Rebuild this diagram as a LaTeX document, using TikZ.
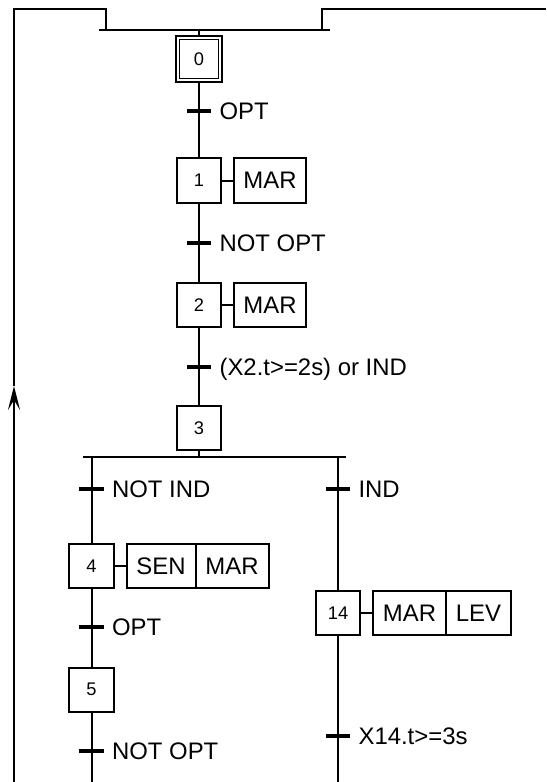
\documentclass[tikz,border=0pt]{standalone}
\usepackage{fontspec}
\setmainfont{Liberation Sans}
\usetikzlibrary{arrows.meta, positioning}

\begin{document}
\begin{tikzpicture}[x=0.025cm, y=-0.025cm, line join=miter,
    wire/.style={line width=0.05cm},
    stepbox/.style={draw, line width=0.05cm, minimum width=1.1cm, minimum height=1.1cm,
      inner sep=0pt, font=\fontsize{13}{15}\selectfont},
    initstep/.style={stepbox, double, line width=0.035cm, double distance=0.05cm,
      minimum width=1.06cm, minimum height=1.06cm, outer sep=0.0425cm},
    act/.style={draw, line width=0.05cm, minimum height=1.1cm, inner sep=0pt, outer sep=0pt,
      font=\fontsize{17}{20}\selectfont},
    bar/.style={fill, minimum width=0.6cm, minimum height=0.09cm, inner sep=0pt},
    cond/.style={font=\fontsize{17}{20}\selectfont, inner sep=0pt,
      text height=12.2pt, text depth=0pt},
    >={Stealth[length=0.6cm, width=0.3cm, inset=0.25cm]}]
  \useasboundingbox (0,0) rectangle (546,782);
  % ================= loop back and OR convergence =================
  \coordinate (loopB) at (14,782);
  \coordinate (loopT) at (14,9);
  \coordinate (arrTip) at (14,386);
  \coordinate (syncIn) at (106,30);
  \coordinate (syncL) at (99,30);
  \coordinate (syncR) at (330,30);
  \coordinate (retR) at (322,30);
  \coordinate (exitR) at (546,9);
  \draw[wire] (syncL) -- (syncR);
  \draw[wire, ->] (loopB) -- (arrTip);
  \draw[wire] (arrTip) -- (loopT) -| (syncIn);
  \draw[wire] (retR) |- (exitR);
  % ================= main column =================
  \node[initstep] (s0) at (199,59) {0};
  \node[stepbox] (s1) at (199,180.5) {1};
  \node[act, minimum width=1.8cm, right=0.3cm of s1] (a1) {MAR};
  \node[stepbox] (s2) at (199,305) {2};
  \node[act, minimum width=1.8cm, right=0.3cm of s2] (a2) {MAR};
  \node[stepbox] (s3) at (199,428) {3};
  \draw[wire] (s0.north) -- (s0.north |- syncL);
  \draw[wire] (s0) -- (s1);
  \draw[wire] (s1) -- (s2);
  \draw[wire] (s2) -- (s3);
  \draw[wire] (s1.east) -- (a1.west);
  \draw[wire] (s2.east) -- (a2.west);
  % transitions
  \node[bar] (t1) at (199,111) {};
  \node[cond, right=0.2cm of t1] (c1) {OPT};
  \node[bar] (t2) at (199,243) {};
  \node[cond, right=0.2cm of t2] (c2) {NOT OPT};
  \node[bar] (t3) at (199,367) {};
  \node[cond, right=0.2cm of t3] (c3) {(X2.t>=2s) or IND};
  % ================= OR divergence =================
  \coordinate (divL) at (83,457);
  \coordinate (divR) at (346,457);
  \draw[wire] (divL) -- (divR);
  \draw[wire] (s3) -- (s3 |- divL);
  % left branch
  \node[stepbox] (s4) at (91.5,566) {4};
  \node[act, minimum width=1.725cm, right=0.3cm of s4] (a4sen) {SEN};
  \node[act, minimum width=1.825cm, right=0pt of a4sen] (a4mar) {MAR};
  \node[stepbox] (s5) at (91.5,689.5) {5};
  \draw[wire] (s4.north |- divL) -- (s4.north);
  \draw[wire] (s4) -- (s5);
  \draw[wire] (s5.south) -- (s5.south |- loopB);
  \draw[wire] (s4.east) -- (a4sen.west);
  \node[bar] (t4) at (91.5,489) {};
  \node[cond, right=0.2cm of t4] (c4) {NOT IND};
  \node[bar] (t5) at (91.5,627) {};
  \node[cond, right=0.2cm of t5] (c5) {OPT};
  \node[bar] (t6) at (91.5,751) {};
  \node[cond, right=0.2cm of t6] (c6) {NOT OPT};
  % right branch
  \node[stepbox] (s14) at (338,613) {14};
  \node[act, minimum width=1.825cm, right=0.3cm of s14] (a14mar) {MAR};
  \node[act, minimum width=1.625cm, right=0pt of a14mar] (a14lev) {LEV};
  \draw[wire] (s14.north |- divR) -- (s14.north);
  \draw[wire] (s14.south) -- (s14.south |- loopB);
  \draw[wire] (s14.east) -- (a14mar.west);
  \node[bar] (t7) at (338,489) {};
  \node[cond, right=0.2cm of t7] (c7) {IND};
  \node[bar] (t8) at (338,736) {};
  \node[cond, right=0.2cm of t8] (c8) {X14.t>=3s};
\end{tikzpicture}
\end{document}
